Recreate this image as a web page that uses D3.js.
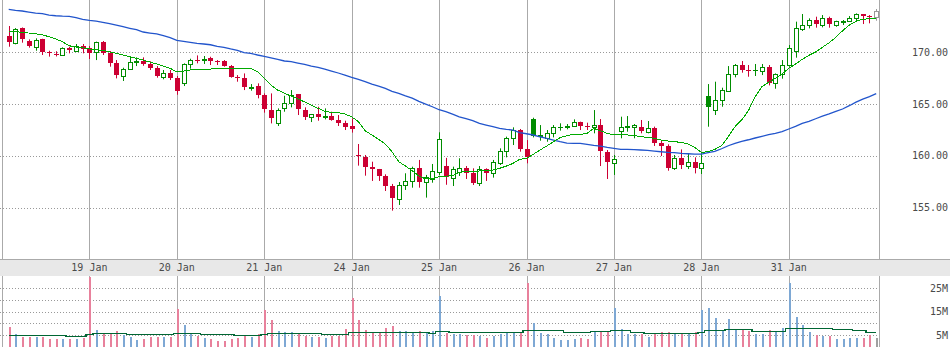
<!DOCTYPE html>
<html><head><meta charset="utf-8">
<script src="https://cdn.jsdelivr.net/npm/d3@7/dist/d3.min.js"></script>
<style>
body{margin:0;background:#fff;}
svg{display:block;}
text{font-family:"DejaVu Sans Mono",monospace;font-size:10px;fill:#4a4a4a;}
</style></head>
<body><svg id="chart" width="950" height="347"></svg>
<script>
// ---- data (30-minute bars, index 0..129) ----
const open  = [171.57,170.93,172.34,171.12,170.54,171.25,170.06,169.85,169.74,170.45,170.15,170.57,170.45,170.00,171.00,169.96,169.00,167.70,168.35,169.10,169.13,168.90,168.48,167.64,168.00,167.51,167.00,168.83,169.25,169.38,169.48,169.20,169.16,168.67,167.60,167.48,166.58,166.74,165.87,164.42,163.20,164.58,165.07,165.93,164.42,163.72,164.04,163.76,163.88,163.46,163.13,162.85,160.05,159.88,158.92,158.73,158.05,157.08,155.80,157.15,157.57,158.79,157.44,157.76,158.47,159.02,157.82,158.47,158.79,158.37,157.34,158.69,158.30,159.34,160.50,161.69,162.49,160.66,163.55,161.97,161.75,162.17,162.82,162.85,162.91,163.23,162.90,162.75,162.97,160.40,159.34,162.43,162.85,162.75,162.75,162.33,162.65,161.27,160.95,158.79,159.75,159.05,159.40,158.79,165.77,164.42,165.39,166.29,167.90,168.74,168.30,168.32,168.22,168.61,167.00,167.90,168.74,170.16,172.22,172.64,173.12,172.64,173.28,172.64,173.00,173.05,173.28,173.67,173.50,173.38];
const high  = [172.54,172.34,172.40,171.25,171.35,171.31,170.15,170.10,170.48,170.54,170.80,170.80,170.60,171.03,171.09,170.12,169.25,168.51,169.57,169.51,169.51,169.13,168.67,168.29,168.29,167.71,168.93,169.38,169.70,169.64,169.57,169.25,169.25,168.77,167.80,167.96,166.93,167.00,166.03,166.03,164.58,165.80,166.35,165.97,164.68,164.04,164.74,164.58,164.26,163.94,163.39,163.60,161.14,160.08,159.43,158.73,158.21,157.28,157.47,158.31,158.95,159.60,158.15,159.21,162.27,159.80,158.95,159.76,159.01,158.79,159.01,158.79,159.60,160.72,161.85,162.75,162.59,161.52,163.68,162.97,162.49,162.97,163.14,163.07,163.52,163.30,163.20,164.42,163.55,160.56,160.08,163.78,163.84,163.07,163.46,163.36,162.82,161.43,161.11,160.08,160.62,160.24,159.85,160.24,166.93,167.16,166.58,168.67,168.87,169.16,168.77,168.87,168.87,168.77,167.96,169.25,170.70,172.96,173.70,173.28,173.44,173.60,173.44,173.05,173.12,173.50,173.76,173.67,173.60,174.18];
const low   = [170.54,170.77,170.93,170.45,170.15,169.74,169.58,169.60,169.67,169.90,170.06,169.90,169.35,169.25,169.74,168.61,167.48,167.23,168.29,168.67,168.70,168.29,167.55,167.39,167.32,165.90,166.74,168.42,168.93,168.87,168.77,168.77,168.61,167.55,167.16,166.35,166.29,165.55,164.17,163.13,162.88,164.26,164.68,163.94,163.46,163.26,163.39,163.52,163.39,162.88,162.49,162.24,159.05,158.08,157.57,157.57,156.60,154.70,155.25,156.70,156.92,156.92,155.96,157.40,158.15,157.20,157.08,158.05,157.76,157.18,157.08,157.57,157.89,159.11,159.85,161.04,160.40,159.27,161.78,161.46,161.36,161.78,162.43,162.56,162.82,162.49,162.49,162.17,159.01,157.76,158.15,161.69,162.33,161.69,162.17,162.17,160.95,159.98,158.56,158.63,158.72,158.72,158.30,158.24,162.81,163.94,164.74,166.19,167.58,168.03,167.64,167.71,167.80,166.80,166.48,167.45,168.61,169.48,172.06,172.31,172.38,172.41,172.38,172.47,172.64,172.96,172.96,172.73,172.80,173.05];
const close = [171.02,172.22,171.25,170.61,171.19,170.06,169.90,169.80,170.38,170.22,170.61,170.32,169.90,170.96,169.96,169.00,167.80,168.35,169.03,169.15,168.90,168.48,167.70,167.96,167.55,166.29,168.83,169.25,169.13,169.20,169.18,169.10,168.70,167.61,167.50,166.61,166.65,165.87,164.49,163.68,164.42,165.07,165.87,164.55,163.78,164.00,163.78,163.80,163.46,163.13,162.81,162.56,159.95,158.95,158.73,158.08,157.12,155.96,157.15,157.53,158.79,157.50,157.92,158.53,161.59,157.92,158.75,158.80,158.37,157.40,158.69,158.37,159.37,160.50,161.69,162.49,160.66,159.85,161.91,162.00,162.17,162.75,162.80,162.88,163.23,162.91,162.88,162.97,160.49,159.43,159.66,162.75,162.88,162.97,162.43,162.65,161.27,160.95,158.85,159.82,159.11,159.40,158.85,159.27,164.74,165.39,166.35,167.90,168.74,168.29,168.27,168.28,168.54,167.00,167.90,168.74,170.38,172.31,172.64,173.12,172.70,173.28,172.70,173.02,173.05,173.28,173.67,173.54,173.44,174.02];
const volumeM = [8.6,5.5,4.3,4.3,4.3,4.1,3.3,3.3,3.4,3.3,3.4,3.8,30.0,7.2,5.6,5.6,6.8,5.0,4.3,2.9,3.3,4.3,4.1,4.3,4.3,16.2,9.3,5.8,4.8,3.8,3.3,2.6,2.6,3.4,3.8,5.0,4.3,5.5,15.7,11.5,6.8,6.3,6.4,5.6,4.8,4.3,4.3,3.8,4.8,4.8,7.6,21.0,11.5,7.2,6.0,6.2,8.2,8.9,6.8,6.6,6.1,6.6,6.3,6.6,21.7,6.0,5.4,5.4,5.0,5.0,4.6,3.8,4.8,5.4,6.3,6.3,5.8,27.4,10.0,5.8,5.4,3.8,2.9,2.9,3.3,3.8,3.3,6.8,6.3,6.3,16.7,7.6,5.4,5.4,5.4,4.3,5.6,6.3,6.3,5.5,5.5,5.4,6.3,15.7,16.7,12.4,7.2,11.8,7.2,7.2,6.6,5.5,5.4,7.2,6.6,8.2,27.4,12.7,9.3,6.4,5.0,4.8,4.8,3.3,3.3,3.8,3.8,3.8,5.0,3.8];
const maShort = [172.05,171.99,171.93,171.86,171.79,171.70,171.50,171.28,171.02,170.63,170.51,170.44,170.32,170.25,170.19,170.03,169.90,169.74,169.57,169.42,169.25,169.06,168.87,168.67,168.45,168.12,168.19,168.29,168.29,168.32,168.38,168.45,168.48,168.48,168.45,168.48,168.45,168.12,167.48,166.84,166.35,166.04,165.77,165.51,165.20,164.88,164.59,164.30,164.20,164.16,164.04,163.77,163.29,162.42,162.01,161.59,161.14,160.39,159.43,159.01,158.56,158.05,157.76,157.82,157.98,158.02,158.09,158.38,158.53,158.53,158.53,158.56,158.62,158.79,159.01,159.27,159.66,159.76,160.14,160.56,160.94,161.36,161.75,161.94,162.07,162.07,162.17,162.65,162.42,162.17,162.01,162.01,162.01,161.98,161.84,161.78,161.69,161.52,161.43,161.36,161.30,161.14,160.82,160.33,160.39,160.62,160.97,161.84,162.81,163.46,164.36,165.71,166.68,167.10,167.48,167.90,168.45,168.87,169.32,169.71,170.03,170.48,170.92,171.45,172.08,172.63,172.99,173.19,173.24,173.31];
const maLong = [174.15,174.06,173.99,173.89,173.79,173.73,173.60,173.53,173.49,173.47,173.34,173.19,173.09,173.02,172.90,172.76,172.63,172.47,172.32,172.18,171.96,171.86,171.77,171.60,171.41,171.16,171.06,170.96,170.87,170.80,170.73,170.58,170.48,170.32,170.19,169.97,169.90,169.74,169.61,169.47,169.32,169.16,169.09,168.96,168.84,168.67,168.55,168.38,168.19,168.00,167.80,167.58,167.39,167.16,166.93,166.74,166.52,166.23,166.04,165.80,165.58,165.26,165.00,164.74,164.45,164.26,164.02,163.77,163.58,163.39,163.14,162.97,162.81,162.65,162.56,162.49,162.23,162.13,162.01,161.84,161.69,161.52,161.36,161.23,161.20,161.20,161.11,161.01,160.94,160.82,160.72,160.62,160.62,160.59,160.56,160.53,160.46,160.39,160.33,160.30,160.24,160.20,160.17,160.17,160.30,160.43,160.68,160.97,161.20,161.40,161.55,161.72,161.88,162.04,162.17,162.33,162.59,162.85,163.14,163.33,163.58,163.84,164.06,164.30,164.52,164.84,165.18,165.48,165.71,166.00];
const volMA = [5.0,5.0,5.0,5.0,5.0,5.0,5.0,5.0,5.0,4.6,4.6,4.6,5.3,5.7,5.7,5.7,5.7,5.7,5.3,5.3,5.3,5.3,5.3,5.3,5.3,5.9,5.9,5.9,5.9,5.3,5.3,5.3,5.3,5.3,4.9,4.9,4.9,4.9,5.3,5.9,5.9,5.9,5.9,5.9,5.9,5.7,5.7,5.3,5.3,5.3,5.3,6.2,6.2,6.2,6.2,6.2,6.2,6.5,6.5,6.5,6.5,6.5,6.5,6.0,6.9,6.9,6.5,6.5,6.5,6.5,6.5,6.5,6.2,6.2,6.2,6.2,6.2,7.1,7.1,7.1,7.1,7.1,7.1,6.5,6.5,6.5,6.5,6.6,6.6,6.6,7.1,7.1,7.1,6.5,6.5,6.0,6.0,6.0,6.0,6.0,6.0,6.0,6.0,6.5,7.1,7.1,7.1,7.5,7.5,7.5,7.5,6.9,6.9,6.9,6.9,6.9,7.9,7.9,7.9,7.9,7.9,7.9,7.9,7.5,7.5,7.5,7.1,7.1,6.5,6.5];
const dayLabels = ["19 Jan","20 Jan","21 Jan","24 Jan","25 Jan","26 Jan","27 Jan","28 Jan","31 Jan"];
const dayStart  = [12,25,38,51,64,77,90,103,116];
const priceTicks = [155,160,165,170];
const volGrid = [5,10,15,20,25];
const volTickLabels = [5,15,25];
const lastBar = 129; // bar still in progress (grey)

// ---- layout ----
const W = 950, H = 347;
const plotL = 2.5, plotR = 879.5;
const bandTop = 259.5, bandBot = 276;

const svg = d3.select("#chart");
const idx = d3.range(open.length);
const x = d3.scaleLinear().domain([0, 129]).range([8.7, 876.2]);
const y = d3.scaleLinear().domain([150, 175]).range([259.3, 0.55]);
const yv = d3.scaleLinear().domain([0, 30.4]).range([346.8, 275.7]);
const px = i => Math.round(x(i));

const RED = "#cc0033", GREEN = "#008c00", GREY = "#999";
const isUp = i => i === 0 ? close[i] >= open[i] : close[i] >= close[i-1];
const colorOf = i => i === lastBar ? GREY : (isUp(i) ? GREEN : RED);
const volColor = i => i === lastBar ? "#a0a0a0" : (isUp(i) ? "#7ea8d4" : "#e8819c");

// date band
svg.append("rect").attr("x",0).attr("y",bandTop).attr("width",W).attr("height",bandBot-bandTop).attr("fill","#e8e8e8");
svg.append("line").attr("x1",0).attr("x2",W).attr("y1",bandTop).attr("y2",bandTop).attr("stroke","#aaa");

// horizontal dotted grid
const gGrid = svg.append("g");
gGrid.selectAll("line.pg").data(priceTicks).join("line")
  .attr("x1",0).attr("x2",plotR).attr("y1",d=>Math.round(y(d))+0.5).attr("y2",d=>Math.round(y(d))+0.5)
  .attr("stroke","#999").attr("stroke-dasharray","1,2");
gGrid.selectAll("line.vg").data(volGrid).join("line")
  .attr("x1",0).attr("x2",plotR).attr("y1",d=>Math.round(yv(d))+0.5).attr("y2",d=>Math.round(yv(d))+0.5)
  .attr("stroke","#999").attr("stroke-dasharray","1,2");

// vertical lines: borders + day separators
const vxs = [plotL, plotR].concat(dayStart.map(d => px(d) + 0.5));
vxs.forEach(vx => {
  svg.append("line").attr("x1",vx).attr("x2",vx).attr("y1",0).attr("y2",bandTop).attr("stroke","#aaa");
  svg.append("line").attr("x1",vx).attr("x2",vx).attr("y1",bandBot).attr("y2",H).attr("stroke","#aaa");
});

// date labels
svg.selectAll("text.date").data(dayLabels).join("text")
  .attr("x",(d,i)=>x(dayStart[i])).attr("y",271).attr("text-anchor","middle").text(d=>d);

// price axis labels
svg.selectAll("text.pl").data(priceTicks).join("text")
  .attr("x",948).attr("y",d=>y(d)+3.5).attr("text-anchor","end").text(d=>d.toFixed(2));
// volume labels
svg.selectAll("text.vl").data(volTickLabels).join("text")
  .attr("x",948).attr("y",d=>yv(d)+3.5).attr("text-anchor","end").text(d=>d+"M");

// volume bars
svg.append("g").attr("shape-rendering","crispEdges").selectAll("rect").data(idx).join("rect")
  .attr("x",i=>px(i)).attr("width",2)
  .attr("y",i=>Math.round(yv(Math.min(volumeM[i],30.4)))).attr("height",i=>yv(0)-Math.round(yv(Math.min(volumeM[i],30.4))))
  .attr("fill",volColor);
// volume MA
svg.append("path").datum(idx)
  .attr("d", d3.line().x(i=>x(i)).y(i=>Math.round(yv(volMA[i]))+0.5).curve(d3.curveStep))
  .attr("fill","none").attr("stroke","#006633").attr("stroke-width",1.5).attr("shape-rendering","crispEdges");

// candles
const gC = svg.append("g");
idx.forEach(i => {
  const c = colorOf(i);
  const cx = px(i);
  const hollow = close[i] >= open[i];
  gC.append("line").attr("x1",cx+0.5).attr("x2",cx+0.5)
    .attr("y1",y(high[i])).attr("y2",y(low[i])).attr("stroke",c).attr("stroke-width",1);
  const top = Math.round(y(Math.max(open[i],close[i])));
  const bot = Math.round(y(Math.min(open[i],close[i])));
  if (hollow) {
    gC.append("rect").attr("x",cx-1.5).attr("y",top+0.5).attr("width",4).attr("height",Math.max(1,bot-top))
      .attr("fill","#fff").attr("stroke",c).attr("stroke-width",1);
  } else {
    gC.append("rect").attr("x",cx-2).attr("y",top).attr("width",5).attr("height",Math.max(1,bot-top))
      .attr("fill",c);
  }
});

// moving averages
svg.append("path").datum(idx)
  .attr("d", d3.line().x(i=>x(i)).y(i=>y(maLong[i])))
  .attr("fill","none").attr("stroke","#2255cc").attr("stroke-width",1.3);
svg.append("path").datum(idx)
  .attr("d", d3.line().x(i=>x(i)).y(i=>y(maShort[i])))
  .attr("fill","none").attr("stroke","#00aa00").attr("stroke-width",1).attr("shape-rendering","crispEdges");
</script>
</body></html>
